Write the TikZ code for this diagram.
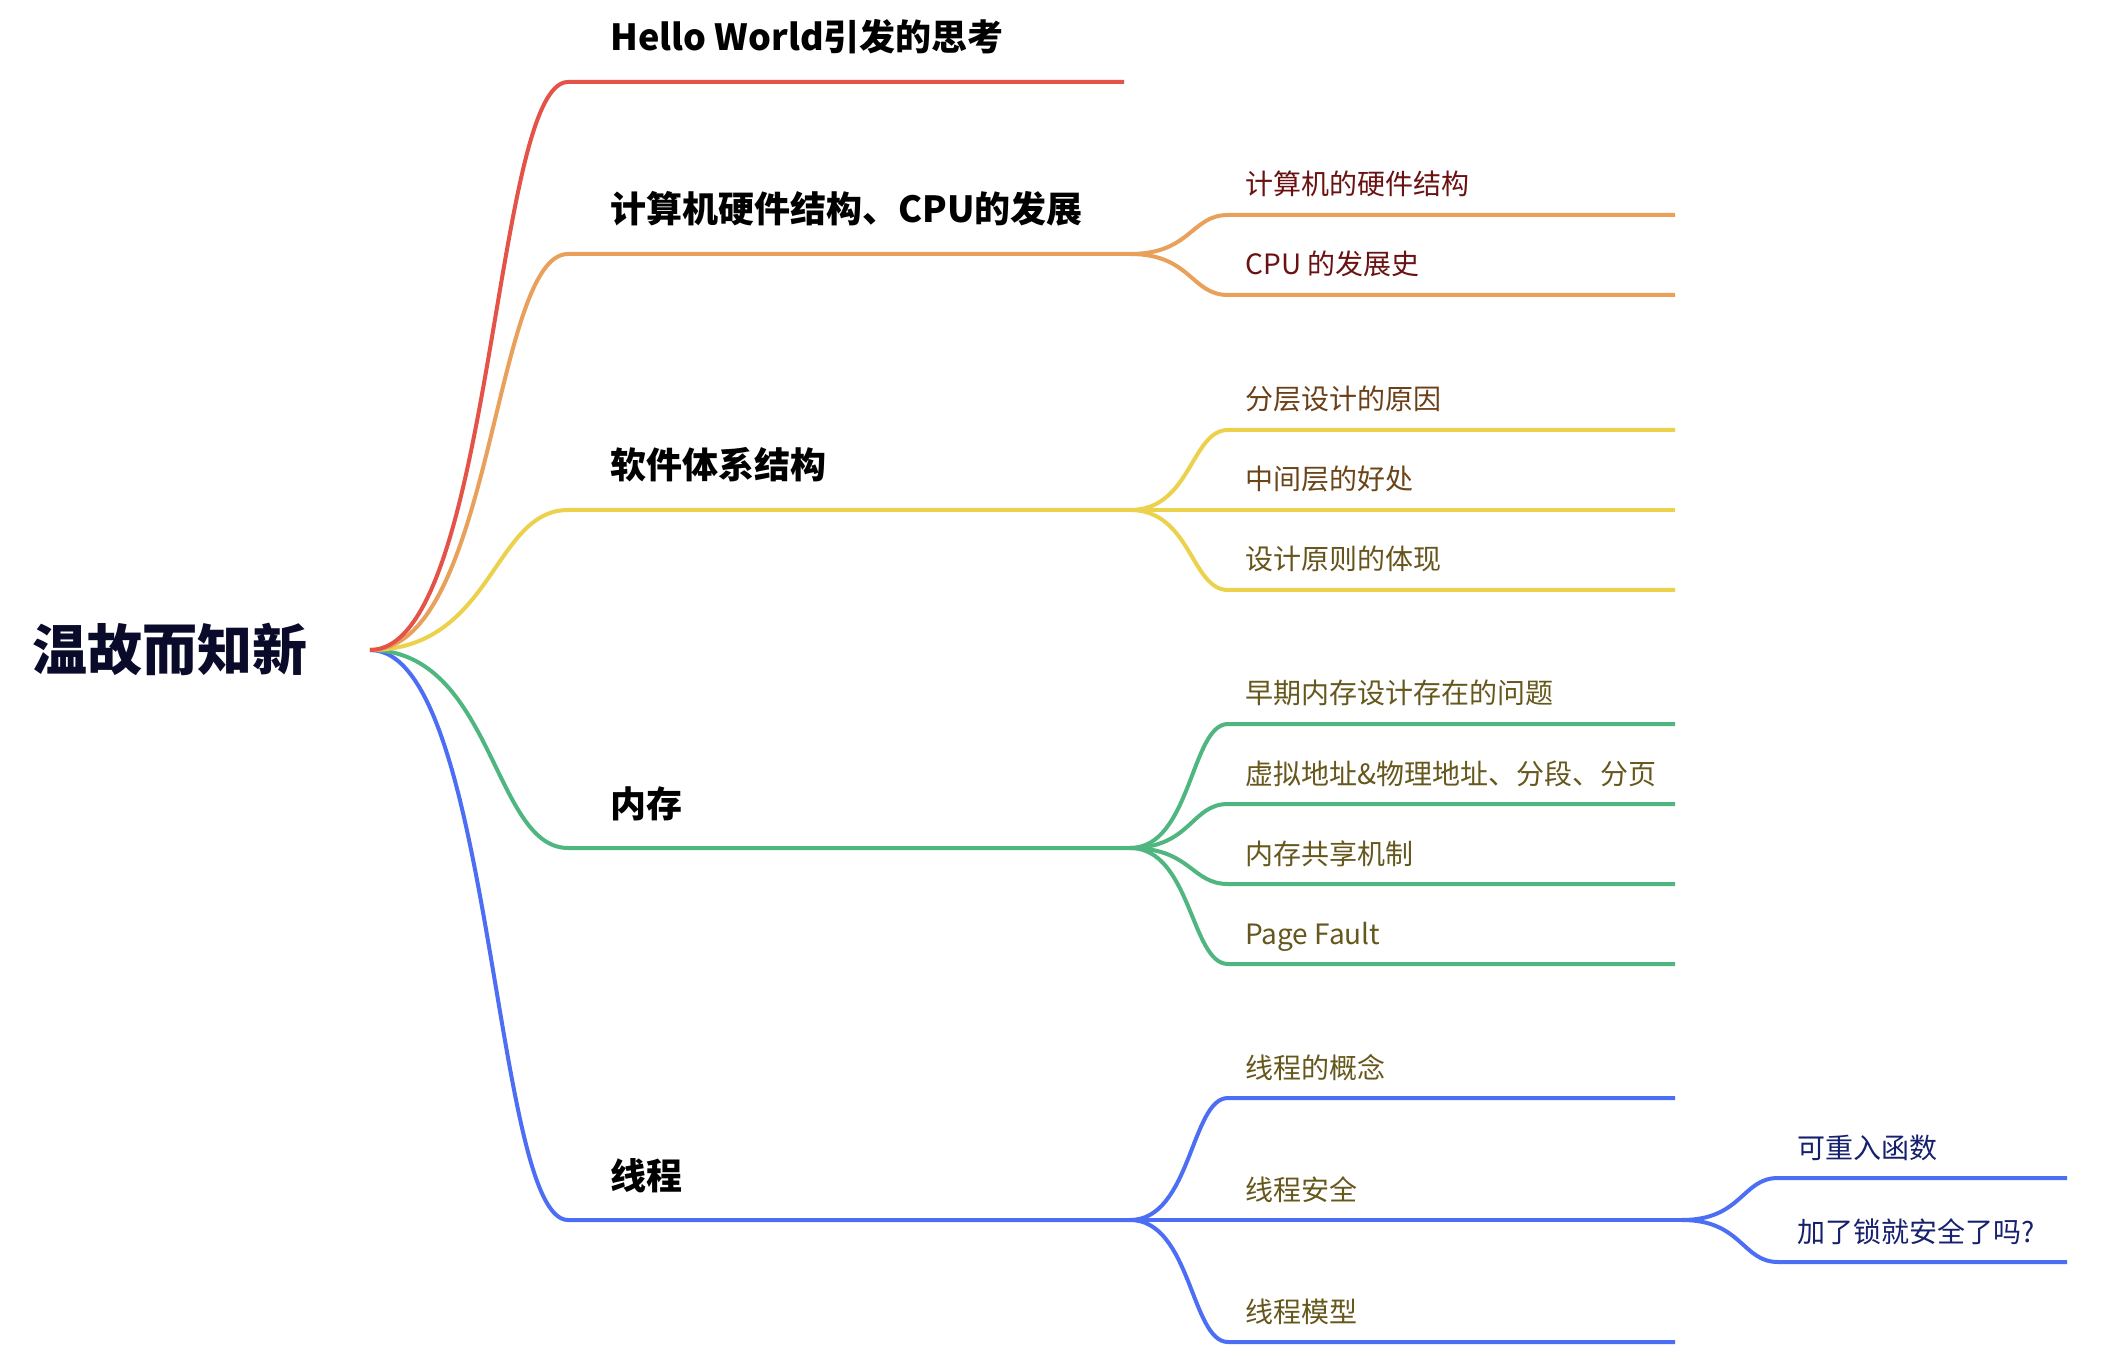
\documentclass[tikz,border=0pt]{standalone}
\usepackage{fontspec}
\setmainfont{Noto Sans CJK SC}
\usetikzlibrary{calc,positioning}

\definecolor{brred}{HTML}{E55348}
\definecolor{brorange}{HTML}{E9A05A}
\definecolor{bryellow}{HTML}{ECD24C}
\definecolor{brgreen}{HTML}{50B680}
\definecolor{brblue}{HTML}{4C6EF5}
\definecolor{rootink}{HTML}{0A0A2A}
\definecolor{inkred}{HTML}{6A1212}
\definecolor{inkbrown}{HTML}{6B4418}
\definecolor{inkolive}{HTML}{66581C}
\definecolor{inknavy}{HTML}{16206E}

\begin{document}
\begin{tikzpicture}[
    x=0.5pt, y=-0.5pt,
    rootnode/.style={anchor=base west, inner sep=0, text=rootink, font=\bfseries\fontsize{27.5}{30}\selectfont},
    topic/.style={anchor=base west, inner sep=0, text=black, font=\bfseries\fontsize{18}{20}\selectfont},
    subtopic/.style={anchor=base west, inner sep=0, font=\fontsize{14}{16}\selectfont},
    branch/.style={line width=2pt}
]
\fill[white] (0,0) rectangle (2110,1352);
\useasboundingbox (0,0) rectangle (2110,1352);

\node[rootnode] (wgzx) at (32,671) {温故而知新};
\coordinate (hub) at (370,650);

% level 1
\coordinate (hw-s) at (568,82);    \coordinate (hw-e) at (1124,82);
\coordinate (cpu-s) at (568,254);  \coordinate (cpu-e) at (1130,254);
\coordinate (sw-s) at (568,510);   \coordinate (sw-e) at (1130,510);
\coordinate (mem-s) at (568,848);  \coordinate (mem-e) at (1130,848);
\coordinate (thr-s) at (568,1220); \coordinate (thr-e) at (1130,1220);

\node[topic] (hw) at ([shift={(42,-31)}]hw-s) {Hello World引发的思考};
\node[topic] (cpu) at ([shift={(42,-31)}]cpu-s) {计算机硬件结构、CPU的发展};
\node[topic] (sw) at ([shift={(42,-31)}]sw-s) {软件体系结构};
\node[topic] (mem) at ([shift={(42,-31)}]mem-s) {内存};
\node[topic] (thr) at ([shift={(42,-31)}]thr-s) {线程};

% level 2
\coordinate (cpu1-s) at (1228,215);  \coordinate (cpu1-e) at (1675,215);
\coordinate (cpu2-s) at (1228,295);  \coordinate (cpu2-e) at (1675,295);
\coordinate (sw1-s) at (1228,430);   \coordinate (sw1-e) at (1675,430);
\coordinate (sw2-s) at (1228,510);   \coordinate (sw2-e) at (1675,510);
\coordinate (sw3-s) at (1228,590);   \coordinate (sw3-e) at (1675,590);
\coordinate (mem1-s) at (1228,724);  \coordinate (mem1-e) at (1675,724);
\coordinate (mem2-s) at (1228,804);  \coordinate (mem2-e) at (1675,804);
\coordinate (mem3-s) at (1228,884);  \coordinate (mem3-e) at (1675,884);
\coordinate (mem4-s) at (1228,964);  \coordinate (mem4-e) at (1675,964);
\coordinate (thr1-s) at (1228,1098); \coordinate (thr1-e) at (1675,1098);
\coordinate (thr2-s) at (1228,1220); \coordinate (thr2-e) at (1682,1220);
\coordinate (thr3-s) at (1228,1342); \coordinate (thr3-e) at (1675,1342);

\node[subtopic, text=inkred] (cpu1) at ([shift={(17,-20)}]cpu1-s) {计算机的硬件结构};
\node[subtopic, text=inkred] (cpu2) at ([shift={(17,-20)}]cpu2-s) {CPU 的发展史};
\node[subtopic, text=inkbrown!90!inkred] (sw1) at ([shift={(17,-20)}]sw1-s) {分层设计的原因};
\node[subtopic, text=inkbrown] (sw2) at ([shift={(17,-20)}]sw2-s) {中间层的好处};
\node[subtopic, text=inkolive!80!inkbrown] (sw3) at ([shift={(17,-20)}]sw3-s) {设计原则的体现};
\node[subtopic, text=inkolive] (mem1) at ([shift={(17,-20)}]mem1-s) {早期内存设计存在的问题};
\node[subtopic, text=inkolive] (mem2) at ([shift={(17,-20)}]mem2-s) {虚拟地址\&物理地址、分段、分页};
\node[subtopic, text=inkolive] (mem3) at ([shift={(17,-20)}]mem3-s) {内存共享机制};
\node[subtopic, text=inkolive] (mem4) at ([shift={(17,-20)}]mem4-s) {Page Fault};
\node[subtopic, text=inkolive] (thr1) at ([shift={(17,-20)}]thr1-s) {线程的概念};
\node[subtopic, text=inkolive] (thr2) at ([shift={(17,-20)}]thr2-s) {线程安全};
\node[subtopic, text=inkolive] (thr3) at ([shift={(17,-20)}]thr3-s) {线程模型};

% level 3
\coordinate (safe1-s) at (1778,1178); \coordinate (safe1-e) at (2067,1178);
\coordinate (safe2-s) at (1778,1262); \coordinate (safe2-e) at (2067,1262);

\node[subtopic, text=inknavy] (safe1) at ([shift={(19,-20)}]safe1-s) {可重入函数};
\node[subtopic, text=inknavy] (safe2) at ([shift={(19,-20)}]safe2-s) {加了锁就安全了吗?};

% threads
\draw[branch, brblue] (thr2-e) .. controls +(60,0) and +(-36,0) .. (safe1-s) -- (safe1-e);
\draw[branch, brblue] (thr2-e) .. controls +(60,0) and +(-36,0) .. (safe2-s) -- (safe2-e);
\draw[branch, brblue] (thr-e) .. controls +(61,0) and +(-37,0) .. (thr1-s) -- (thr1-e);
\draw[branch, brblue] (thr-e) .. controls +(61,0) and +(-37,0) .. (thr3-s) -- (thr3-e);
\draw[branch, brblue] (thr-e) -- (thr2-s) -- (thr2-e);
\draw[branch, brblue] (hub) .. controls +(123,0) and +(-75,0) .. (thr-s) -- (thr-e);

% memory
\draw[branch, brgreen] (mem-e) .. controls +(61,0) and +(-37,0) .. (mem1-s) -- (mem1-e);
\draw[branch, brgreen] (mem-e) .. controls +(61,0) and +(-37,0) .. (mem2-s) -- (mem2-e);
\draw[branch, brgreen] (mem-e) .. controls +(61,0) and +(-37,0) .. (mem3-s) -- (mem3-e);
\draw[branch, brgreen] (mem-e) .. controls +(61,0) and +(-37,0) .. (mem4-s) -- (mem4-e);
\draw[branch, brgreen] (hub) .. controls +(123,0) and +(-75,0) .. (mem-s) -- (mem-e);

% software
\draw[branch, bryellow] (sw-e) .. controls +(61,0) and +(-37,0) .. (sw1-s) -- (sw1-e);
\draw[branch, bryellow] (sw-e) .. controls +(61,0) and +(-37,0) .. (sw3-s) -- (sw3-e);
\draw[branch, bryellow] (sw-e) -- (sw2-s) -- (sw2-e);
\draw[branch, bryellow] (hub) .. controls +(123,0) and +(-75,0) .. (sw-s) -- (sw-e);

% hardware
\draw[branch, brorange] (cpu-e) .. controls +(61,0) and +(-37,0) .. (cpu1-s) -- (cpu1-e);
\draw[branch, brorange] (cpu-e) .. controls +(61,0) and +(-37,0) .. (cpu2-s) -- (cpu2-e);
\draw[branch, brorange] (hub) .. controls +(123,0) and +(-75,0) .. (cpu-s) -- (cpu-e);

\draw[branch, brred] (hub) .. controls +(123,0) and +(-75,0) .. (hw-s) -- (hw-e);

\end{tikzpicture}
\end{document}
